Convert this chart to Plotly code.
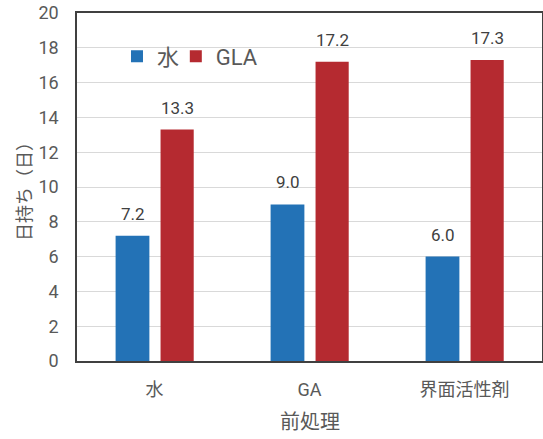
import plotly.graph_objects as go

categories = ["水", "GA", "界面活性剤"]
series_names = ["水", "GLA"]
water_values = [7.2, 9.0, 6.0]
gla_values = [13.3, 17.2, 17.3]
y_ticks = [0, 2, 4, 6, 8, 10, 12, 14, 16, 18, 20]
x_title = "前処理"
y_title = "日持ち（日）"

BLUE = "#2372B6"
RED = "#B52A30"
FONT = "Roboto, Noto Sans CJK JP"
GREY = "#595959"

fig = go.Figure()
fig.add_trace(go.Bar(name=series_names[0], x=categories, y=water_values,
                     marker=dict(color=BLUE, line=dict(width=0)),
                     width=0.218, offset=-0.251, legend="legend"))
fig.add_trace(go.Bar(name=series_names[1], x=categories, y=gla_values,
                     marker=dict(color=RED, line=dict(width=0)),
                     width=0.214, offset=0.039, legend="legend2"))

annotations = []
for vals, shift in ((water_values, -22), (gla_values, 23)):
    for c, v in zip(categories, vals):
        annotations.append(dict(x=c, y=v, text=f"{v:.1f}", showarrow=False,
                                xref="x", yref="y", xshift=shift, yshift=10,
                                yanchor="bottom",
                                font=dict(family=FONT, size=17, color="#404040")))
annotations.append(dict(x=0.5, y=0, xref="paper", yref="paper", text=x_title,
                        showarrow=False, yanchor="middle", yshift=-61,
                        font=dict(family=FONT, size=20, color=GREY)))
annotations.append(dict(x=0, y=0.5, xref="paper", yref="paper", text=y_title,
                        showarrow=False, textangle=-90, xanchor="center", xshift=-53,
                        font=dict(family=FONT, size=18, color=GREY)))

legend_common = dict(orientation="h", y=0.875, xanchor="left", yanchor="middle",
                     font=dict(family=FONT, size=22, color=GREY),
                     bgcolor="rgba(0,0,0,0)", itemwidth=30)

fig.update_layout(
    width=543, height=439,
    margin=dict(l=77, r=1, t=13, b=78),
    paper_bgcolor="white", plot_bgcolor="white",
    font=dict(family=FONT, color=GREY),
    barmode="group",
    showlegend=True,
    legend=dict(x=0.086, **legend_common),
    legend2=dict(x=0.2125, **legend_common),
    annotations=annotations,
    xaxis=dict(showline=True, linecolor="#404040", linewidth=1.5, mirror=True,
               automargin=False,
               tickfont=dict(family=FONT, size=18, color=GREY),
               ticks="", ticklabelstandoff=12),
    yaxis=dict(range=[0, 20], tickmode="array", tickvals=y_ticks,
               ticktext=[str(t) for t in y_ticks],
               showline=True, linecolor="#404040",
               linewidth=1.5, mirror=True, showgrid=True, gridcolor="#D9D9D9",
               gridwidth=1.3, zeroline=False, automargin=False,
               tickfont=dict(family=FONT, size=18, color=GREY),
               ticks="", ticklabelstandoff=13, ticklabeloverflow="allow"),
)

fig.write_html("out.html", config={"displayModeBar": False},
               post_script="document.body.style.margin='0';document.body.style.overflow='hidden';")
